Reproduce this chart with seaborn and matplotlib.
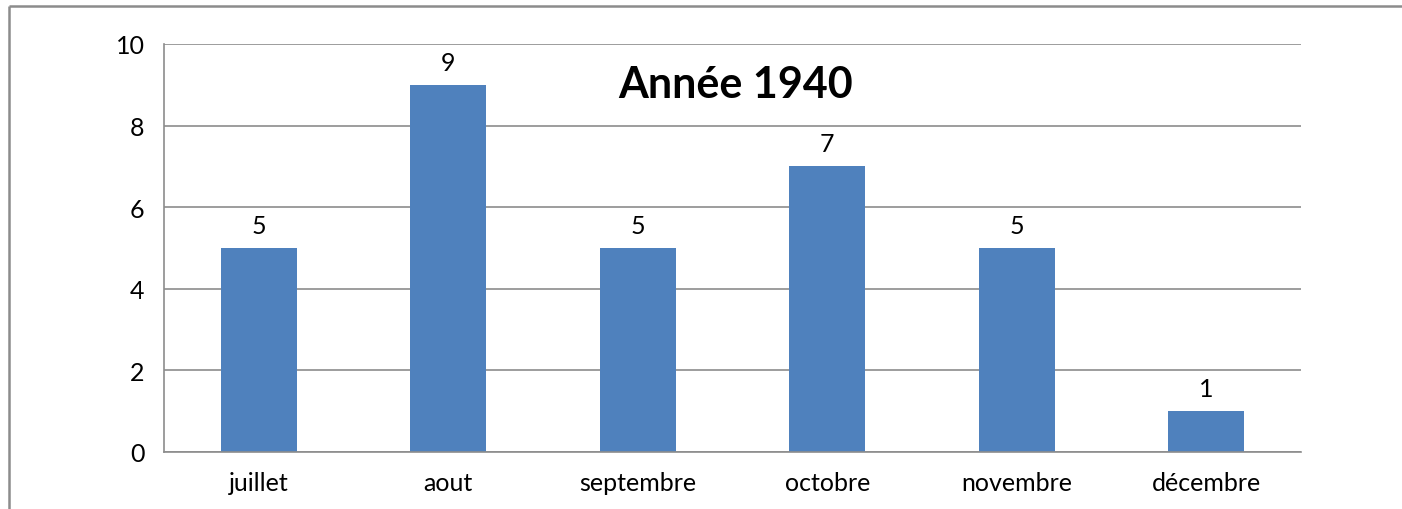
import matplotlib
matplotlib.use("Agg")
import matplotlib.pyplot as plt
import seaborn as sns
import pandas as pd
from matplotlib.lines import Line2D

months = ["juillet", "aout", "septembre", "octobre", "novembre", "décembre"]
counts = [5, 9, 5, 7, 5, 1]
title = "Année 1940"

sns.set_style("white")
plt.rcParams['font.family'] = ['Lato', 'DejaVu Sans']

df = pd.DataFrame({"mois": months, "n": counts})

fig = plt.figure(figsize=(14.02, 5.10), dpi=100)
fig.patch.set_facecolor("white")
fig.patch.set_edgecolor("none")
fig.patch.set_linewidth(0)
ax = fig.add_axes([164/1402, 1-453/510, (1301-164)/1402, (453-45)/510])

sns.barplot(data=df, x="mois", y="n", color="#4F81BD", saturation=1, width=0.4,
            linewidth=0, ax=ax)
for c in ax.containers:
    ax.bar_label(c, padding=8, fontsize=18, color="#000000")

grid_c = "#8C8C8C"
ax.set_ylim(0, 10)
ax.set_xlim(-0.5, len(months) - 0.5)
ax.set_yticks(range(0, 11, 2))
ax.yaxis.grid(True, color=grid_c, lw=1.2)
ax.set_axisbelow(True)
ax.set_xlabel("")
ax.set_ylabel("")
for s in ["top", "right"]:
    ax.spines[s].set_visible(False)
for s in ["left", "bottom"]:
    ax.spines[s].set_color(grid_c)
    ax.spines[s].set_linewidth(1.2)
ax.tick_params(axis="y", length=6, color=grid_c, width=1.2, labelsize=18, pad=8,
               labelcolor="#000000")
ax.tick_params(axis="x", which="major", length=0, labelsize=18, pad=14, labelcolor="#000000")
ax.set_xticks([i - 0.5 for i in range(len(months) + 1)], minor=True)
ax.tick_params(axis="x", which="minor", length=7, color=grid_c, width=1.2)

fig.text(736/1402, 1-85/510, title, ha="center", va="center", fontsize=31,
         fontweight="bold", color="#000000")

frame_c = "#8C8C8C"
fig.add_artist(Line2D([9/1402, 9/1402], [-0.05, 1-7/510], transform=fig.transFigure,
                      color=frame_c, lw=1.8, solid_capstyle="butt"))
fig.add_artist(Line2D([9/1402, 1.05], [1-7/510, 1-7/510], transform=fig.transFigure,
                      color=frame_c, lw=1.8, solid_capstyle="butt"))

fig.savefig("out.png", dpi=100, facecolor="white", edgecolor="none")
